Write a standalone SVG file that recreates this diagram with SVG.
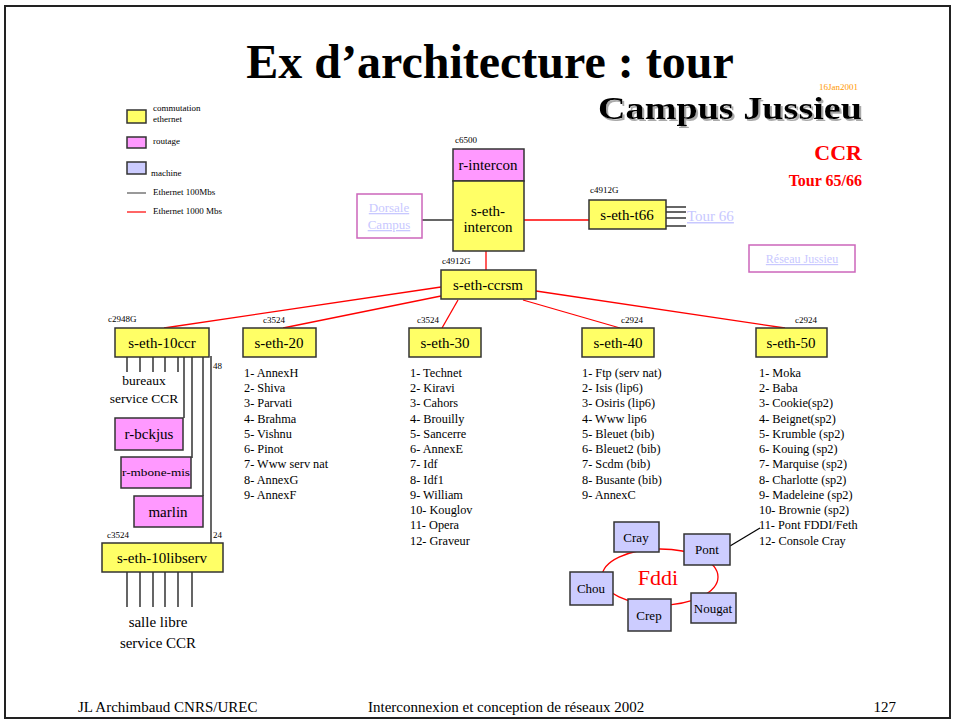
<svg xmlns="http://www.w3.org/2000/svg" width="955" height="724" viewBox="0 0 955 724" font-family="'Liberation Serif', 'Times New Roman', serif">
<style>
text{font-family:"Liberation Serif","Times New Roman",serif;fill:#000}
.sw{fill:#ffff66;stroke:#333;stroke-width:1.5}
.rt{fill:#ff99ff;stroke:#333;stroke-width:1.5}
.mc{fill:#ccccff;stroke:#333;stroke-width:1.5}
.bx{font-size:15px;text-anchor:middle}
.lb{font-size:9px}
.ls{font-size:12.3px}
.red{stroke:#ff0000;stroke-width:1.3;fill:none}
.blk{stroke:#000;stroke-width:1.2;fill:none}
.lnk{fill:#c8c8ff;text-decoration:underline}
.pb{fill:#fff;stroke:#cc66bb;stroke-width:1.5}
</style>
<defs>
<filter id="shadow" x="-5%" y="-20%" width="110%" height="150%">
<feDropShadow dx="2" dy="2" stdDeviation="0.6" flood-color="#aaaaaa" flood-opacity="1"/>
</filter>
</defs>
<rect x="0" y="0" width="955" height="724" fill="#fff"/>
<rect x="5" y="6" width="945" height="712" fill="none" stroke="#222" stroke-width="2"/>

<g id="titles">
<text x="490" y="78" font-size="48" font-weight="bold" text-anchor="middle">Ex d’architecture : tour</text>
<text x="858" y="90" font-size="9" style="fill:#ff9900" text-anchor="end">16Jan2001</text>
<text x="598" y="119" font-size="32" font-weight="bold" textLength="264" lengthAdjust="spacingAndGlyphs" filter="url(#shadow)">Campus Jussieu</text>
<text x="862" y="160" font-size="22" font-weight="bold" text-anchor="end" style="fill:#ff0000">CCR</text>
<text x="862" y="186" font-size="16" font-weight="bold" text-anchor="end" style="fill:#ff0000">Tour 65/66</text>
</g>

<g id="legend">
<rect class="sw" x="127" y="110" width="19" height="13"/>
<text class="lb" x="153" y="111">commutation</text>
<text class="lb" x="153" y="122">ethernet</text>
<rect class="rt" x="127" y="137" width="19" height="11"/>
<text class="lb" x="153" y="144">routage</text>
<rect class="mc" x="127" y="162" width="19" height="12"/>
<text class="lb" x="151" y="176">machine</text>
<line x1="127" y1="193" x2="146" y2="193" stroke="#555" stroke-width="1.2"/>
<text class="lb" x="153" y="195">Ethernet 100Mbs</text>
<line x1="127" y1="212" x2="146" y2="212" stroke="#ff0000" stroke-width="1.2"/>
<text class="lb" x="153" y="214">Ethernet 1000 Mbs</text>
</g>

<g id="connectors">
<line class="blk" x1="422" y1="220" x2="453" y2="220"/>
<line class="red" x1="524" y1="220" x2="589" y2="220"/>
<line class="blk" x1="666" y1="207" x2="686" y2="207"/>
<line class="blk" x1="666" y1="212" x2="686" y2="212"/>
<line class="blk" x1="666" y1="218" x2="686" y2="218"/>
<line class="blk" x1="666" y1="226" x2="686" y2="226"/>
<line class="red" x1="486" y1="251" x2="486" y2="270"/>
<line class="red" x1="441" y1="287" x2="164" y2="328"/>
<line class="red" x1="441" y1="296" x2="283" y2="328"/>
<line class="red" x1="458" y1="300" x2="442" y2="328"/>
<line class="red" x1="523" y1="300" x2="620" y2="328"/>
<line class="red" x1="536" y1="291" x2="785" y2="328"/>
<path class="blk" d="M127 357V372M140 357V372M153 357V372M165 357V372M178 357V372"/>
<path class="blk" d="M184 357V418M192 357V458M203 357V496"/>
<line class="blk" x1="211" y1="356" x2="211" y2="543"/>
<path class="blk" d="M127 572V607M140 572V607M153 572V607M165 572V607M178 572V607M192 572V607"/>
<line class="blk" x1="730" y1="546" x2="760" y2="528"/>
<ellipse cx="660" cy="577" rx="58" ry="28" class="red"/>
</g>

<g id="r-intercon">
<text class="lb" x="455" y="143">c6500</text>
<rect class="rt" x="453" y="149" width="71" height="32"/>
<text class="bx" x="488" y="170">r-intercon</text>
</g>
<g id="s-eth-intercon">
<rect class="sw" x="453" y="181" width="71" height="70"/>
<text class="bx" x="488" y="216">s-eth-</text>
<text class="bx" x="488" y="232">intercon</text>
</g>
<g id="dorsale">
<rect class="pb" x="357" y="194" width="65" height="44"/>
<text class="lnk" x="389" y="212" font-size="13" text-anchor="middle">Dorsale</text>
<text class="lnk" x="389" y="229" font-size="13" text-anchor="middle">Campus</text>
</g>
<g id="s-eth-t66">
<text class="lb" x="590" y="193">c4912G</text>
<rect class="sw" x="589" y="200" width="77" height="29"/>
<text class="bx" x="627" y="220">s-eth-t66</text>
</g>
<g id="tour66">
<text class="lnk" x="687" y="221" font-size="15">Tour 66</text>
</g>
<g id="reseau">
<rect class="pb" x="749" y="245" width="106" height="27"/>
<text class="lnk" x="802" y="263" font-size="12" text-anchor="middle">Réseau Jussieu</text>
</g>
<g id="s-eth-ccrsm">
<text class="lb" x="442" y="264">c4912G</text>
<rect class="sw" x="441" y="270" width="95" height="29"/>
<text class="bx" x="488" y="290">s-eth-ccrsm</text>
</g>

<g id="s-eth-10ccr">
<text class="lb" x="108" y="322">c2948G</text>
<rect class="sw" x="115" y="328" width="94" height="29"/>
<text class="bx" x="162" y="348">s-eth-10ccr</text>
<text class="lb" x="213" y="369">48</text>
<text x="144" y="385" font-size="13.5" text-anchor="middle">bureaux</text>
<text x="144" y="403" font-size="13.5" text-anchor="middle">service CCR</text>
</g>
<g id="r-bckjus">
<rect class="rt" x="115" y="418" width="68" height="32"/>
<text class="bx" x="149" y="439">r-bckjus</text>
</g>
<g id="r-mbone-mis">
<rect class="rt" x="121" y="457" width="70" height="31"/>
<text x="156" y="476" font-size="10" text-anchor="middle" textLength="68" lengthAdjust="spacingAndGlyphs">r-mbone-mis</text>
</g>
<g id="marlin">
<rect class="rt" x="134" y="496" width="69" height="31"/>
<text class="bx" x="168" y="517">marlin</text>
</g>
<g id="s-eth-10libserv">
<text class="lb" x="107" y="538">c3524</text>
<text class="lb" x="213" y="538">24</text>
<rect class="sw" x="102" y="543" width="121" height="29"/>
<text class="bx" x="162" y="563">s-eth-10libserv</text>
<text x="158" y="627" font-size="15" text-anchor="middle">salle libre</text>
<text x="158" y="648" font-size="15" text-anchor="middle">service CCR</text>
</g>

<g id="s-eth-20">
<text class="lb" x="263" y="323">c3524</text>
<rect class="sw" x="243" y="328" width="73" height="29"/>
<text class="bx" x="279" y="348">s-eth-20</text>
<text class="ls" x="244" y="377">1- AnnexH</text>
<text class="ls" x="244" y="392">2- Shiva</text>
<text class="ls" x="244" y="407">3- Parvati</text>
<text class="ls" x="244" y="423">4- Brahma</text>
<text class="ls" x="244" y="438">5- Vishnu</text>
<text class="ls" x="244" y="453">6- Pinot</text>
<text class="ls" x="244" y="468">7- Www serv nat</text>
<text class="ls" x="244" y="484">8- AnnexG</text>
<text class="ls" x="244" y="499">9- AnnexF</text>
</g>

<g id="s-eth-30">
<text class="lb" x="417" y="323">c3524</text>
<rect class="sw" x="409" y="328" width="72" height="29"/>
<text class="bx" x="445" y="348">s-eth-30</text>
<text class="ls" x="410" y="377">1- Technet</text>
<text class="ls" x="410" y="392">2- Kiravi</text>
<text class="ls" x="410" y="407">3- Cahors</text>
<text class="ls" x="410" y="423">4- Brouilly</text>
<text class="ls" x="410" y="438">5- Sancerre</text>
<text class="ls" x="410" y="453">6- AnnexE</text>
<text class="ls" x="410" y="468">7- Idf</text>
<text class="ls" x="410" y="484">8- Idf1</text>
<text class="ls" x="410" y="499">9- William</text>
<text class="ls" x="410" y="514">10- Kouglov</text>
<text class="ls" x="410" y="529">11- Opera</text>
<text class="ls" x="410" y="545">12- Graveur</text>
</g>

<g id="s-eth-40">
<text class="lb" x="621" y="323">c2924</text>
<rect class="sw" x="582" y="328" width="72" height="29"/>
<text class="bx" x="618" y="348">s-eth-40</text>
<text class="ls" x="582" y="377">1- Ftp (serv nat)</text>
<text class="ls" x="582" y="392">2- Isis (lip6)</text>
<text class="ls" x="582" y="407">3- Osiris (lip6)</text>
<text class="ls" x="582" y="423">4- Www lip6</text>
<text class="ls" x="582" y="438">5- Bleuet (bib)</text>
<text class="ls" x="582" y="453">6- Bleuet2 (bib)</text>
<text class="ls" x="582" y="468">7- Scdm (bib)</text>
<text class="ls" x="582" y="484">8- Busante (bib)</text>
<text class="ls" x="582" y="499">9- AnnexC</text>
</g>

<g id="s-eth-50">
<text class="lb" x="795" y="323">c2924</text>
<rect class="sw" x="756" y="328" width="71" height="29"/>
<text class="bx" x="791" y="348">s-eth-50</text>
<text class="ls" x="759" y="377">1- Moka</text>
<text class="ls" x="759" y="392">2- Baba</text>
<text class="ls" x="759" y="407">3- Cookie(sp2)</text>
<text class="ls" x="759" y="423">4- Beignet(sp2)</text>
<text class="ls" x="759" y="438">5- Krumble (sp2)</text>
<text class="ls" x="759" y="453">6- Kouing (sp2)</text>
<text class="ls" x="759" y="468">7- Marquise (sp2)</text>
<text class="ls" x="759" y="484">8- Charlotte (sp2)</text>
<text class="ls" x="759" y="499">9- Madeleine (sp2)</text>
<text class="ls" x="759" y="514">10- Brownie (sp2)</text>
<text class="ls" x="759" y="529">11- Pont FDDI/Feth</text>
<text class="ls" x="759" y="545">12- Console Cray</text>
</g>

<g id="fddi">
<text x="658" y="585" font-size="22" text-anchor="middle" style="fill:#ff0000">Fddi</text>
</g>
<g id="cray">
<rect class="mc" x="614" y="522" width="45" height="30"/>
<text x="636" y="542" font-size="13" text-anchor="middle">Cray</text>
</g>
<g id="pont">
<rect class="mc" x="684" y="534" width="46" height="31"/>
<text x="707" y="554" font-size="13" text-anchor="middle">Pont</text>
</g>
<g id="chou">
<rect class="mc" x="570" y="572" width="43" height="33"/>
<text x="591" y="593" font-size="13" text-anchor="middle">Chou</text>
</g>
<g id="crep">
<rect class="mc" x="628" y="599" width="43" height="32"/>
<text x="649" y="620" font-size="13" text-anchor="middle">Crep</text>
</g>
<g id="nougat">
<rect class="mc" x="691" y="593" width="45" height="30"/>
<text x="713" y="613" font-size="13" text-anchor="middle">Nougat</text>
</g>

<g id="footer">
<text x="78" y="712" font-size="15">JL Archimbaud CNRS/UREC</text>
<text x="368" y="712" font-size="15">Interconnexion et conception de réseaux 2002</text>
<text x="896" y="712" font-size="15" text-anchor="end">127</text>
</g>
</svg>
